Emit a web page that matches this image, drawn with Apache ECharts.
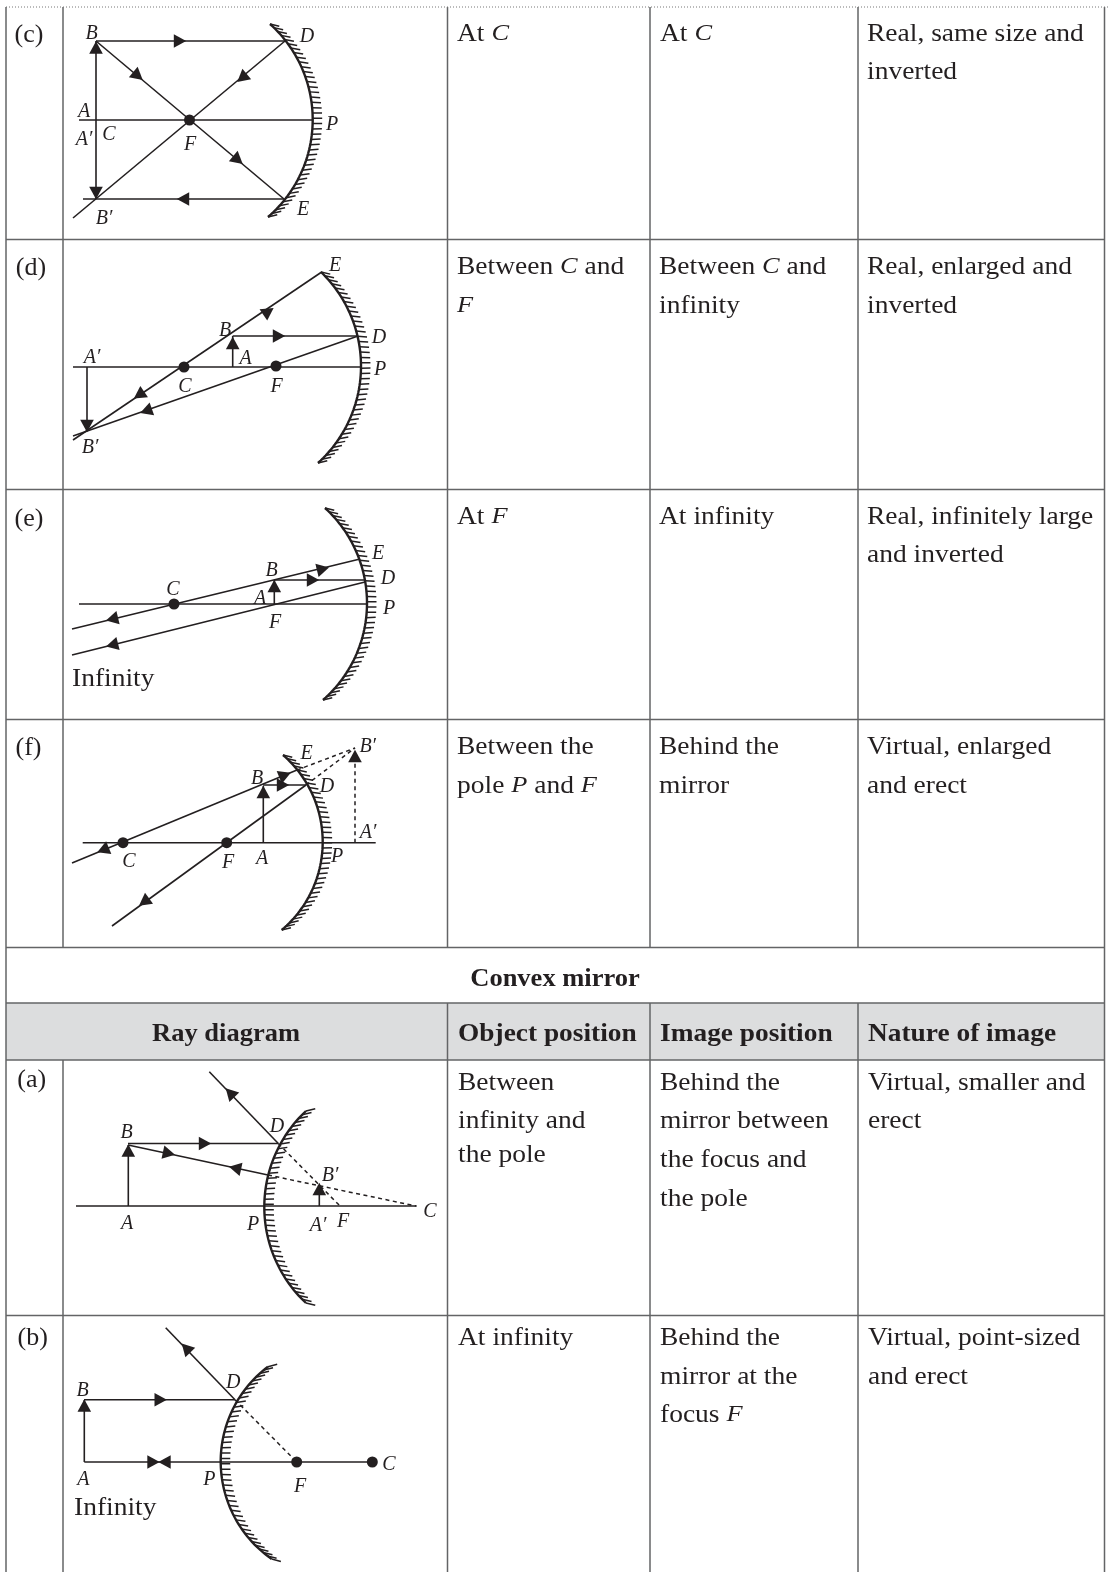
<!DOCTYPE html>
<html>
<head>
<meta charset="utf-8">
<style>html,body{margin:0;padding:0;background:#fff}#c{width:1108px;height:1572px}</style>
<script src="https://cdn.jsdelivr.net/npm/echarts@6/dist/echarts.min.js"></script>
</head>
<body>
<div id="c"></div>
<script>
// ---- table ----
const headerBand = [[6, 1003, 1104.5, 1060]];
const tableLines = [
  [6,239.5,1104.5,239.5],[6,489.5,1104.5,489.5],[6,719.5,1104.5,719.5],[6,947.5,1104.5,947.5],
  [6,1003,1104.5,1003],[6,1060,1104.5,1060],[6,1315.5,1104.5,1315.5],
  [6,7,6,1572],[1104.5,7,1104.5,1572],
  [63,7,63,947.5],[63,1060,63,1572],
  [447.5,7,447.5,947.5],[447.5,1003,447.5,1572],
  [650,7,650,947.5],[650,1003,650,1572],
  [858,7,858,947.5],[858,1003,858,1572]
];
const topDotted = [[6,7,1108,7]];

// ---- mirrors: top, pole, bottom ----
const mirrors = [
  [270,24,312.7,120,268,217],
  [321,272,361,367,318,463],
  [325,508,367,604,323,700],
  [283,755,322.7,842.7,281.7,930],
  [306,1111,264.3,1206.5,306,1303],
  [268,1366.7,220.7,1462,271.7,1559]
];

// ---- solid rays ----
const raysC = [[96,41,285,41],[96,41,284,199],[285,41,73,218],[284,199,83,199],[96,41,96,199],[79,120,312,120]];
const raysD = [[73,367,361,367],[232.7,367,232.7,336],[232.7,336,358,336],[321.7,272,73,440],[358,336,73,436],[87,367,87,431]];
const raysE = [[79,604,367,604],[274.3,604,274.3,580],[274.3,580,365,580],[360,559,72,629],[365,582,72,655]];
const raysF = [[82.7,842.7,375.7,842.7],[263.3,842.7,263.3,786],[263,785,306,785],[72,863,297,770],[306,785,112,926]];
const raysA = [[76,1206,416.7,1206],[128.3,1206,128.3,1145],[128,1143.5,278.3,1143.5],[278.3,1143.5,209.3,1071.7],[128,1145,268,1175],[319.3,1206,319.3,1186]];
const raysB = [[84.3,1462,372,1462],[84.3,1462,84.3,1400],[84,1399.7,235,1399.7],[235,1399.7,165.7,1327.7]];

// ---- dashed construction rays ----
const dashedRays = [
  [297,770,355,748],[306,785,355,748],[355,842.7,355,760],
  [268,1175,416,1206],[278.3,1143.5,340,1206],
  [235,1399.7,296.7,1462]
];

// ---- arrowheads: centre, direction ----
const arrowsC = [[180,41,1,0],[138,76,94,79],[238,160,94,79],[242,78,-212,177],[183,199,-1,0],[96,47.5,0,-1],[96,193,0,1]];
const arrowsD = [[279,336,1,0],[268.5,311.5,234,-159],[139,395,-234,159],[146,411,-271,95],[232.7,343,0,-1],[87,426,0,1]];
const arrowsE = [[313,580,1,0],[323,569,288,-70],[112,619,-288,70],[112,645,-293,73],[274.3,586,0,-1]];
const arrowsF = [[283,785,1,0],[285,775,225,-93],[103,850,-225,93],[144,902,-194,141],[263.3,792,0,-1],[355,756,0,-1]];
const arrowsA = [[205,1143.5,1,0],[230,1092.7,-69,-72],[169,1153.5,140,30],[235,1168,-140,-30],[128.3,1150.5,0,-1],[319.3,1189,0,-1]];
const arrowsB = [[160.7,1399.7,1,0],[186,1348,-69,-72],[153.5,1462,1,0],[164.5,1462,-1,0],[84.3,1405.5,0,-1]];

// ---- points ----
const dots = [[189.5,120],[184,367],[276,366],[174,604],[123,842.7],[226.7,842.7],[296.7,1462],[372.3,1462]];

// ---- point letters ----
const diagramLabels = [
  [91.5,33.5,'B'],[307,36.5,'D'],[84,111.5,'A'],[84,139.5,'A′'],[109,134.5,'C'],[190,144.5,'F'],[332,124.5,'P'],[303,209.5,'E'],[104,218.5,'B′'],
  [335,265.5,'E'],[225,330.5,'B'],[379,338,'D'],[92,358,'A′'],[245.7,358.5,'A'],[380,369.5,'P'],[185,386.5,'C'],[276.7,386.5,'F'],[90,447.5,'B′'],
  [173,589.5,'C'],[271.7,570.5,'B'],[378,553.5,'E'],[388,578.5,'D'],[260,598.5,'A'],[389,608.5,'P'],[275,622.5,'F'],
  [306.7,754,'E'],[367.7,746.5,'B′'],[257,778.5,'B'],[327,786.5,'D'],[368,833,'A′'],[129,862,'C'],[228,863,'F'],[262,858.5,'A'],[337,856.5,'P'],
  [126.7,1133,'B'],[277,1126.5,'D'],[330,1175.5,'B′'],[127,1223.5,'A'],[253,1224.5,'P'],[318,1225.5,'A′'],[343,1222,'F'],[430,1212,'C'],
  [82.7,1390.5,'B'],[233.3,1382.5,'D'],[83.3,1479.5,'A'],[209.3,1479.5,'P'],[300,1486.5,'F'],[389,1464.5,'C']
];

// ---- table text ----
const rowLabels = [[29,35,'(c)'],[31,268,'(d)'],[29,519,'(e)'],[28.5,748,'(f)'],[31.7,1080,'(a)'],[32.7,1338,'(b)']];
const cellText = [
  [457,34,'At {i|C}'],[660,34,'At {i|C}'],[867,34,'Real, same size and'],[867,72,'inverted'],
  [457,267,'Between {i|C} and'],[457,306,'{i|F}'],[659,267,'Between {i|C} and'],[659,306,'infinity'],[867,267,'Real, enlarged and'],[867,306,'inverted'],
  [457,517,'At {i|F}'],[659,517,'At infinity'],[867,517,'Real, infinitely large'],[867,555,'and inverted'],
  [457,747,'Between the'],[457,786,'pole {i|P} and {i|F}'],[659,747,'Behind the'],[659,786,'mirror'],[867,747,'Virtual, enlarged'],[867,786,'and erect'],
  [458,1083,'Between'],[458,1121,'infinity and'],[458,1155,'the pole'],
  [660,1083,'Behind the'],[660,1121,'mirror between'],[660,1160,'the focus and'],[660,1199,'the pole'],
  [868,1083,'Virtual, smaller and'],[868,1121,'erect'],
  [458,1338,'At infinity'],[660,1338,'Behind the'],[660,1377,'mirror at the'],[660,1415,'focus {i|F}'],
  [868,1338,'Virtual, point-sized'],[868,1377,'and erect'],
  [72,679,'Infinity'],[74,1508,'Infinity']
];
const headText = [[458,1035,'Object position'],[660,1035,'Image position'],[868,1035,'Nature of image']];
const headCentred = [[555,980,'Convex mirror'],[226,1035,'Ray diagram']];

// ---- rendering through the axes ----
const INK = '#231f20', RULE = '#636466', SERIF = '"Liberation Serif", serif';
const xy = a => a.slice(0, 2);

function lineSeries(data, width, color, dash) {
  return {
    type: 'custom', coordinateSystem: 'cartesian2d', clip: false, silent: true, data,
    encode: { x: [0, 2], y: [1, 3] },
    renderItem(p, api) {
      const a = api.coord([api.value(0), api.value(1)]), b = api.coord([api.value(2), api.value(3)]);
      return { type: 'line', shape: { x1: a[0], y1: a[1], x2: b[0], y2: b[1] },
        style: { stroke: color, lineWidth: width, lineDash: dash || null, fill: null } };
    }
  };
}
function bandSeries(data, color) {
  return {
    type: 'custom', coordinateSystem: 'cartesian2d', clip: false, silent: true, data,
    encode: { x: [0, 2], y: [1, 3] },
    renderItem(p, api) {
      const a = api.coord([api.value(0), api.value(1)]), b = api.coord([api.value(2), api.value(3)]);
      return { type: 'rect', shape: { x: a[0], y: a[1], width: b[0] - a[0], height: b[1] - a[1] }, style: { fill: color } };
    }
  };
}
function arrowSeries(data) {
  return {
    type: 'custom', coordinateSystem: 'cartesian2d', clip: false, silent: true, data,
    encode: { x: 0, y: 1 },
    renderItem(p, api) {
      const c = api.coord([api.value(0), api.value(1)]);
      const dx = api.value(2), dy = api.value(3), n = Math.hypot(dx, dy), ux = dx / n, uy = dy / n;
      const L = 6.2, H = 6.8;
      return { type: 'polygon', shape: { points: [
        [c[0] + ux * L, c[1] + uy * L],
        [c[0] - ux * L - uy * H, c[1] - uy * L + ux * H],
        [c[0] - ux * L + uy * H, c[1] - uy * L - ux * H]
      ] }, style: { fill: INK } };
    }
  };
}
function mirrorSeries(data) {
  return {
    type: 'custom', coordinateSystem: 'cartesian2d', clip: false, silent: true, data,
    encode: { x: [0, 2, 4], y: [1, 3, 5] },
    renderItem(p, api) {
      const A = api.coord([api.value(0), api.value(1)]), B = api.coord([api.value(2), api.value(3)]), C = api.coord([api.value(4), api.value(5)]);
      const d = 2 * (A[0] * (B[1] - C[1]) + B[0] * (C[1] - A[1]) + C[0] * (A[1] - B[1]));
      const s = q => q[0] * q[0] + q[1] * q[1];
      const cx = (s(A) * (B[1] - C[1]) + s(B) * (C[1] - A[1]) + s(C) * (A[1] - B[1])) / d;
      const cy = (s(A) * (C[0] - B[0]) + s(B) * (A[0] - C[0]) + s(C) * (B[0] - A[0])) / d;
      const r = Math.hypot(A[0] - cx, A[1] - cy);
      const a0 = Math.atan2(A[1] - cy, A[0] - cx), a2 = Math.atan2(C[1] - cy, C[0] - cx);
      let da = a2 - a0;
      const concave = cx < B[0];
      if (concave) { while (da < 0) da += 2 * Math.PI; } else { while (da > 0) da -= 2 * Math.PI; }
      const pts = [], kids = [];
      const arcLen = Math.abs(da) * r, ticks = Math.round(arcLen / 5.3), steps = 60;
      for (let i = 0; i <= steps; i++) {
        const t = a0 + da * i / steps;
        pts.push([cx + r * Math.cos(t), cy + r * Math.sin(t)]);
      }
      kids.push({ type: 'polyline', shape: { points: pts }, style: { stroke: INK, lineWidth: 2.4, fill: null } });
      for (let i = 0; i <= ticks; i++) {
        const t = a0 + da * i / ticks;
        const px = cx + r * Math.cos(t), py = cy + r * Math.sin(t);
        const sy = Math.sin(t) * (concave ? 1 : -1);
        const vx = 1, vy = -0.32 * sy, m = Math.hypot(vx, vy);
        kids.push({ type: 'line', shape: { x1: px, y1: py, x2: px + 9.5 * vx / m, y2: py + 9.5 * vy / m },
          style: { stroke: INK, lineWidth: 1.5 } });
      }
      return { type: 'group', children: kids };
    }
  };
}
function dotSeries(data) {
  return {
    type: 'custom', coordinateSystem: 'cartesian2d', clip: false, silent: true, data,
    encode: { x: 0, y: 1 },
    renderItem(p, api) {
      const c = api.coord([api.value(0), api.value(1)]);
      return { type: 'circle', shape: { cx: c[0], cy: c[1], r: 5.5 }, style: { fill: INK } };
    }
  };
}
function textSeries(rows, opt) {
  return {
    type: 'custom', coordinateSystem: 'cartesian2d', clip: false, silent: true, data: rows.map(xy),
    encode: { x: 0, y: 1 },
    renderItem(p, api) {
      const c = api.coord([api.value(0), api.value(1)]);
      const text = rows[p.dataIndex][2];
      return { type: 'text', x: c[0], y: c[1], scaleX: opt.stretch || 1, style: {
        x: 0, y: 0, text, fill: INK, fontFamily: SERIF,
        fontSize: opt.size, fontWeight: opt.weight || 'normal', fontStyle: opt.style || 'normal',
        align: opt.align || 'left', verticalAlign: 'middle',
        rich: { i: { fontStyle: 'italic', fontFamily: SERIF, fontSize: opt.size - 1, fill: INK } }
      } };
    }
  };
}

const RAY = 1.6;
const chart = echarts.init(document.getElementById('c'), null, { renderer: 'canvas', width: 1108, height: 1572 });
chart.setOption({
  animation: false,
  backgroundColor: '#fff',
  grid: { left: 0, right: 0, top: 0, bottom: 0 },
  xAxis: { type: 'value', min: 0, max: 1108, show: false },
  yAxis: { type: 'value', min: 0, max: 1572, inverse: true, show: false },
  series: [
    bandSeries(headerBand, '#dcddde'),
    lineSeries(tableLines, 1.5, RULE),
    lineSeries(topDotted, 1, '#777', [1, 2]),
    mirrorSeries(mirrors),
    lineSeries(raysC, RAY, INK), lineSeries(raysD, RAY, INK), lineSeries(raysE, RAY, INK),
    lineSeries(raysF, RAY, INK), lineSeries(raysA, RAY, INK), lineSeries(raysB, RAY, INK),
    lineSeries(dashedRays, 1.5, INK, [4, 3.5]),
    arrowSeries(arrowsC), arrowSeries(arrowsD), arrowSeries(arrowsE),
    arrowSeries(arrowsF), arrowSeries(arrowsA), arrowSeries(arrowsB),
    dotSeries(dots),
    textSeries(diagramLabels, { size: 20, style: 'italic', align: 'center' }),
    textSeries(rowLabels, { size: 26, align: 'center' }),
    textSeries(cellText, { size: 25, stretch: 1.1 }),
    textSeries(headText, { size: 25, weight: 'bold', stretch: 1.095 }),
    textSeries(headCentred, { size: 25, weight: 'bold', align: 'center', stretch: 1.06 })
  ]
});
</script>
</body>
</html>
